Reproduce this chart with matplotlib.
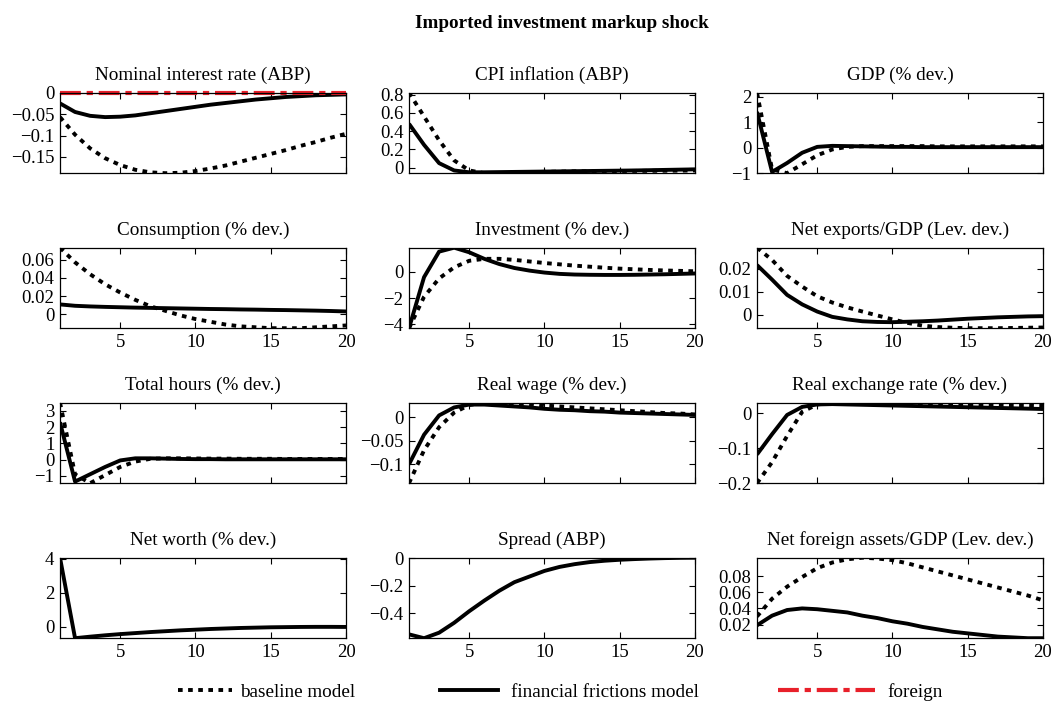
import numpy as np
import matplotlib
matplotlib.use('Agg')
import matplotlib.pyplot as plt
from matplotlib.lines import Line2D
from matplotlib.ticker import FuncFormatter

periods = np.arange(1, 21)

# impulse responses, baseline model (dotted) and financial frictions model (solid)
nominal_rate_base = [-0.057, -0.098, -0.130, -0.153, -0.169, -0.180, -0.186, -0.188, -0.187, -0.183,
                     -0.177, -0.170, -0.161, -0.152, -0.143, -0.134, -0.124, -0.115, -0.105, -0.096]
nominal_rate_ff = [-0.025, -0.045, -0.054, -0.057, -0.056, -0.053, -0.048, -0.043, -0.038, -0.033,
                   -0.028, -0.024, -0.020, -0.016, -0.013, -0.010, -0.008, -0.006, -0.005, -0.004]
nominal_rate_foreign = [0.0] * 20

cpi_base = [0.82, 0.56, 0.30, 0.08, -0.03, -0.06, -0.06, -0.055, -0.05, -0.045,
            -0.043, -0.04, -0.04, -0.038, -0.036, -0.035, -0.034, -0.033, -0.032, -0.03]
cpi_ff = [0.48, 0.25, 0.05, -0.03, -0.05, -0.05, -0.048, -0.046, -0.044, -0.042,
          -0.04, -0.038, -0.036, -0.034, -0.032, -0.03, -0.027, -0.024, -0.021, -0.018]

gdp_base = [2.15, -0.85, -1.0, -0.65, -0.3, -0.07, 0.03, 0.06, 0.06, 0.06,
            0.06, 0.06, 0.05, 0.05, 0.05, 0.05, 0.05, 0.05, 0.05, 0.05]
gdp_ff = [1.4, -0.95, -0.6, -0.2, 0.03, 0.07, 0.06, 0.05, 0.04, 0.03,
          0.03, 0.02, 0.02, 0.02, 0.02, 0.02, 0.02, 0.02, 0.02, 0.02]

cons_base = [0.073, 0.057, 0.044, 0.033, 0.024, 0.016, 0.009, 0.004, -0.001, -0.005,
             -0.008, -0.011, -0.013, -0.014, -0.015, -0.015, -0.015, -0.014, -0.013, -0.012]
cons_ff = [0.011, 0.0095, 0.0088, 0.0083, 0.0079, 0.0075, 0.0072, 0.0069, 0.0066, 0.0063,
           0.006, 0.0058, 0.0055, 0.0053, 0.005, 0.0048, 0.0045, 0.0042, 0.0038, 0.0033]

inv_base = [-4.3, -1.9, -0.5, 0.35, 0.85, 1.0, 1.0, 0.92, 0.8, 0.68,
            0.58, 0.48, 0.4, 0.32, 0.25, 0.2, 0.15, 0.11, 0.08, 0.05]
inv_ff = [-4.3, -0.4, 1.55, 1.85, 1.5, 1.0, 0.6, 0.3, 0.1, -0.05,
          -0.15, -0.2, -0.22, -0.23, -0.23, -0.22, -0.2, -0.18, -0.15, -0.12]

nx_base = [0.029, 0.0237, 0.0168, 0.0122, 0.008, 0.0053, 0.0032, 0.0014, -0.0003, -0.002,
           -0.0035, -0.0047, -0.0053, -0.0056, -0.0058, -0.0058, -0.0058, -0.0057, -0.0056, -0.0055]
nx_ff = [0.0215, 0.0152, 0.0086, 0.0045, 0.0014, -0.0009, -0.002, -0.0028, -0.0031, -0.0032,
         -0.003, -0.0028, -0.0025, -0.0021, -0.0017, -0.0014, -0.0011, -0.0009, -0.0007, -0.0006]

hours_base = [3.5, -0.9, -1.45, -0.95, -0.45, -0.12, 0.05, 0.08, 0.08, 0.07,
              0.06, 0.06, 0.05, 0.05, 0.05, 0.04, 0.04, 0.04, 0.04, 0.04]
hours_ff = [2.3, -1.35, -0.9, -0.45, -0.05, 0.08, 0.08, 0.06, 0.04, 0.03,
            0.03, 0.02, 0.02, 0.02, 0.02, 0.02, 0.02, 0.02, 0.02, 0.02]

wage_base = [-0.14, -0.07, -0.021, 0.01, 0.026, 0.031, 0.031, 0.03, 0.028, 0.025,
             0.023, 0.021, 0.019, 0.017, 0.015, 0.013, 0.011, 0.009, 0.008, 0.006]
wage_ff = [-0.10, -0.037, 0.004, 0.021, 0.027, 0.027, 0.025, 0.023, 0.021, 0.018,
           0.016, 0.015, 0.013, 0.012, 0.010, 0.009, 0.008, 0.007, 0.006, 0.005]

rer_base = [-0.2, -0.14, -0.065, 0.004, 0.025, 0.03, 0.03, 0.029, 0.028, 0.027,
            0.027, 0.026, 0.026, 0.025, 0.025, 0.024, 0.024, 0.023, 0.023, 0.022]
rer_ff = [-0.118, -0.06, -0.005, 0.018, 0.025, 0.026, 0.025, 0.024, 0.023, 0.022,
          0.021, 0.02, 0.019, 0.018, 0.017, 0.016, 0.015, 0.014, 0.013, 0.012]

networth_ff = [4.05, -0.67, -0.58, -0.5, -0.43, -0.37, -0.31, -0.26, -0.21, -0.17,
               -0.13, -0.1, -0.07, -0.05, -0.03, -0.02, -0.01, -0.005, -0.005, -0.01]

spread_ff = [-0.552, -0.58, -0.54, -0.468, -0.384, -0.307, -0.235, -0.173, -0.132, -0.091,
             -0.062, -0.042, -0.027, -0.017, -0.01, -0.005, -0.001, 0.002, 0.004, 0.005]

nfa_base = [0.03, 0.052, 0.067, 0.079, 0.09, 0.097, 0.101, 0.103, 0.102, 0.100,
            0.096, 0.091, 0.086, 0.081, 0.076, 0.071, 0.066, 0.061, 0.056, 0.050]
nfa_ff = [0.019, 0.031, 0.038, 0.040, 0.039, 0.037, 0.035, 0.031, 0.028, 0.024,
          0.021, 0.017, 0.014, 0.011, 0.009, 0.007, 0.005, 0.004, 0.003, 0.003]

titles = ['Nominal interest rate (ABP)', 'CPI inflation (ABP)', 'GDP (% dev.)',
          'Consumption (% dev.)', 'Investment (% dev.)', 'Net exports/GDP (Lev. dev.)',
          'Total hours (% dev.)', 'Real wage (% dev.)', 'Real exchange rate (% dev.)',
          'Net worth (% dev.)', 'Spread (ABP)', 'Net foreign assets/GDP (Lev. dev.)']
base_series = [nominal_rate_base, cpi_base, gdp_base, cons_base, inv_base, nx_base,
               hours_base, wage_base, rer_base, None, None, nfa_base]
ff_series = [nominal_rate_ff, cpi_ff, gdp_ff, cons_ff, inv_ff, nx_ff,
             hours_ff, wage_ff, rer_ff, networth_ff, spread_ff, nfa_ff]
yticks = [[-0.15, -0.1, -0.05, 0], [0, 0.2, 0.4, 0.6, 0.8], [-1, 0, 1, 2],
          [0, 0.02, 0.04, 0.06], [-4, -2, 0], [0, 0.01, 0.02],
          [-1, 0, 1, 2, 3], [-0.1, -0.05, 0], [-0.2, -0.1, 0],
          [0, 2, 4], [-0.4, -0.2, 0], [0.02, 0.04, 0.06, 0.08]]
xticks = [5, 10, 15, 20]
legend_labels = ['baseline model', 'financial frictions model', 'foreign']

plt.rcParams['font.family'] = ['Liberation Serif', 'DejaVu Serif']
FS = 13.8      # titles, legend
TFS = 13.5     # tick labels
LW = 2.8
W, H = 1053, 702
RED = '#e8202a'
dotted = (0, (1.2, 1.4))
dashdot = (0, (5.0, 1.4, 1.5, 1.4))

fig = plt.figure(figsize=(W / 100, H / 100), dpi=100)
fig.text(562 / W, 1 - 23 / H, 'Imported investment markup shock', ha='center', va='center',
         fontsize=FS, fontweight='bold')

col_left = [60, 409, 757]
row_top = [92.7, 247.7, 402.7, 557.7]
ax_w, ax_h = 286, 80.5

fmt = FuncFormatter(lambda v, p: ('%g' % (0 if abs(v) < 1e-12 else v)).replace('-', '\u2212'))

for i in range(12):
    r, c = divmod(i, 3)
    ax = fig.add_axes([col_left[c] / W, 1 - (row_top[r] + ax_h) / H, ax_w / W, ax_h / H])
    ff = np.array(ff_series[i])
    ax.plot(periods, ff, color='k', lw=LW, solid_capstyle='butt')
    lo, hi = ff.min(), ff.max()
    if base_series[i] is not None:
        base = np.array(base_series[i])
        ax.plot(periods, base, color='k', lw=LW, ls=dotted, dash_capstyle='butt')
        lo, hi = min(lo, base.min()), max(hi, base.max())
    if i == 0:
        ax.plot(periods, nominal_rate_foreign, color=RED, lw=3.0, ls=dashdot,
                dash_capstyle='butt', clip_on=False)
        hi = max(hi, max(nominal_rate_foreign))
    ax.set_xlim(1, 20)
    ax.set_ylim(lo, hi)
    ax.set_xticks(xticks)
    ax.set_yticks(yticks[i])
    ax.yaxis.set_major_formatter(fmt)
    ax.tick_params(direction='in', top=True, right=True, length=4, width=0.8,
                   labelsize=TFS, pad=4)
    if r in (0, 2):
        ax.tick_params(labelbottom=False)
    for s in ax.spines.values():
        s.set_linewidth(0.9)
    ax.set_title(titles[i], fontsize=FS, pad=9)

# one legend per entry so each sample line gets its own length
handles = [Line2D([], [], color='k', lw=LW, ls=dotted, dash_capstyle='butt'),
           Line2D([], [], color='k', lw=LW),
           Line2D([], [], color=RED, lw=3.0, ls=dashdot, dash_capstyle='butt')]
leg_x = [178, 440, 778]
leg_len = [2.8, 3.0, 5.05]
leg_pad = [0.42, 0.68, 0.68]
for h, lab, x0, hl, tp in zip(handles, legend_labels, leg_x, leg_len, leg_pad):
    fig.legend([h], [lab], loc='center left', bbox_to_anchor=(x0 / W, 1 - 692 / H),
               frameon=False, fontsize=FS, handlelength=hl, handletextpad=tp,
               borderpad=0, borderaxespad=0)

fig.savefig('out.png', dpi=100)
